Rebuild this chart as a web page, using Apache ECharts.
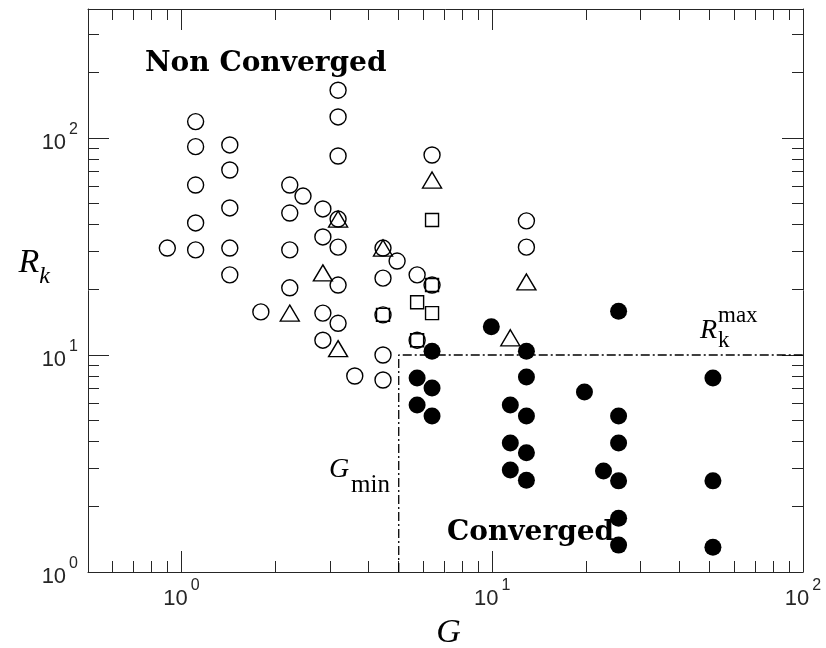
<!DOCTYPE html>
<html><head><meta charset="utf-8">
<script src="https://cdn.jsdelivr.net/npm/echarts@6/dist/echarts.min.js"></script>
<style>html,body{margin:0;padding:0;background:#fff}#c{width:826px;height:648px}</style>
</head><body><div id="c"></div>
<script>
// ---- data (G, R_k) ----
const openCircleG = [0.9, 1.11,1.11,1.11,1.11,1.11, 1.43,1.43,1.43,1.43,1.43, 1.8, 2.23,2.23,2.23,2.23, 2.46, 2.85,2.85,2.85,2.85, 3.19,3.19,3.19,3.19,3.19,3.19,3.19, 3.61, 4.45,4.45,4.45,4.45,4.45, 4.94, 5.73,5.73, 6.4,6.4, 12.88,12.88];
const openCircleR = [31.1, 119,91.2,60.7,40.6,30.5, 92.9,71.2,47.6,31.1,23.4, 15.8, 60.7,45.1,30.5,20.4, 54.0, 47.1,35.0,15.6,11.7, 166,125,82.6,42.3,31.4,21.0,14.0, 8.0, 31.1,22.6,15.3,10.0,7.67, 27.1, 23.4,11.7, 83.5,21.0, 41.5,31.4];
const triangleG = [2.23, 2.85, 3.19, 3.19, 4.45, 6.4, 11.43, 12.88];
const triangleR = [15.6, 23.9, 42.3, 10.7, 31.1, 64.0, 12.0, 21.7];
const squareG = [4.45, 5.73, 5.73, 6.4, 6.4, 6.4];
const squareR = [15.3, 17.5, 11.7, 41.9, 21.0, 15.6];
const filledG = [6.4, 5.73, 6.4, 5.73, 6.4, 9.93, 12.88, 12.88, 11.43, 12.88, 11.43, 12.88, 11.43, 12.88, 19.8, 22.8, 25.5,25.5,25.5,25.5,25.5,25.5, 51.3,51.3,51.3];
const filledR = [10.4, 7.83, 7.05, 5.88, 5.24, 13.5, 10.4, 7.92, 5.88, 5.24, 3.93, 3.54, 2.95, 2.65, 6.75, 2.92, 15.9,5.24,3.93,2.63,1.77,1.33, 7.83,2.63,1.30];
// boundary: G_min and R_k^max
const Gmin = 5, RkMax = 10;
// axis ranges and ticks
const xMin = 0.5, xMax = 100, yMin = 1, yMax = 393;
const majorExp = [0, 1, 2];
const minorMult = [2, 3, 4, 5, 6, 7, 8, 9];

const L = Math.log10;
const pts = (gs, rs) => gs.map((g, i) => [L(g), L(rs[i])]);
function minorLog(lo, hi) {
  const out = [];
  for (let e = -1; e <= 2; e++) minorMult.forEach(m => { const v = m * Math.pow(10, e); if (v > lo * 1.0001 && v < hi * 0.9999) out.push(L(v)); });
  return out;
}
const ax = '#262626';
const tickFont = 'Liberation Sans, Arial, sans-serif';
const labelRich = {
  b: { fontSize: 22, fontFamily: tickFont, color: ax, lineHeight: 32, verticalAlign: 'bottom' },
  s: { fontSize: 16, fontFamily: tickFont, color: ax, verticalAlign: 'top', padding: [0, 0, 0, 3] }
};
function mkX(pos, ticks, len, showLine, showLabel) {
  return {
    type: 'value', position: pos, min: L(xMin), max: L(xMax),
    axisLine: { show: showLine, onZero: false, lineStyle: { color: ax, width: 1 } },
    axisTick: { show: true, inside: true, length: len, customValues: ticks, lineStyle: { color: ax, width: 1 } },
    axisLabel: showLabel ? { show: true, customValues: majorExp, margin: 6, formatter: v => '{b|10}{s|' + Math.round(v) + '}', rich: labelRich } : { show: false },
    splitLine: { show: false }
  };
}
function mkY(pos, ticks, len, showLine, showLabel) {
  return {
    type: 'value', position: pos, min: L(yMin), max: L(yMax),
    axisLine: { show: showLine, onZero: false, lineStyle: { color: ax, width: 1 } },
    axisTick: { show: true, inside: true, length: len, customValues: ticks, lineStyle: { color: ax, width: 1 } },
    axisLabel: showLabel ? { show: true, customValues: majorExp, margin: 10, formatter: v => '{b|10}{s|' + Math.round(v) + '}', rich: labelRich } : { show: false },
    splitLine: { show: false }
  };
}
const xMinor = minorLog(xMin, xMax), yMinor = minorLog(yMin, yMax);
const xs = [mkX('bottom', majorExp, 21, true, true), mkX('bottom', xMinor, 11, false, false), mkX('top', majorExp, 21, true, false), mkX('top', xMinor, 11, false, false)];
const ys = [mkY('left', majorExp, 21, true, true), mkY('left', yMinor, 11, false, false), mkY('right', majorExp, 21, true, false), mkY('right', yMinor, 11, false, false)];
xs[0].name = 'G';
xs[0].nameLocation = 'middle';
xs[0].nameGap = 44;
xs[0].nameMoveOverlap = false;
xs[0].nameTextStyle = { fontFamily: 'Liberation Serif, serif', fontStyle: 'italic', fontSize: 34, color: '#000', verticalAlign: 'top', padding: [0, 0, 0, 6] };
ys[0].name = '{r|R}{k|k}';
ys[0].nameLocation = 'middle';
ys[0].nameRotate = 0;
ys[0].nameGap = 38;
ys[0].nameMoveOverlap = false;
ys[0].nameTextStyle = { padding: [0, 0, 56, 0], rich: {
  r: { fontFamily: 'Liberation Serif, serif', fontStyle: 'italic', fontSize: 34, color: '#000', lineHeight: 36, verticalAlign: 'bottom' },
  k: { fontFamily: 'Liberation Serif, serif', fontStyle: 'italic', fontSize: 24, color: '#000', verticalAlign: 'bottom', lineHeight: 24, padding: [0, 0, -8, 0] }
} };

const chart = echarts.init(document.getElementById('c'), null, { renderer: 'canvas' });
const openStyle = { color: 'rgba(0,0,0,0)', borderColor: '#000', borderWidth: 1.4, opacity: 1 };
const option = {
  animation: false,
  backgroundColor: '#fff',
  grid: { left: 88, right: 23, top: 9, bottom: 76, outerBoundsMode: 'none' },
  xAxis: xs, yAxis: ys,
  series: [
    { type: 'line', data: [[L(Gmin), L(yMin)], [L(Gmin), L(RkMax)], [L(xMax), L(RkMax)]], symbol: 'none', silent: true,
      lineStyle: { color: '#000', width: 1.3, opacity: 1, type: [9, 3, 2, 3] }, z: 1 },
    { type: 'scatter', data: pts(openCircleG, openCircleR), symbol: 'circle', symbolSize: 16, itemStyle: openStyle },
    { type: 'scatter', data: pts(triangleG, triangleR), symbol: 'triangle', symbolSize: [19, 16], itemStyle: openStyle },
    { type: 'scatter', data: pts(squareG, squareR), symbol: 'rect', symbolSize: 13, itemStyle: openStyle },
    { type: 'scatter', data: pts(filledG, filledR), symbol: 'circle', symbolSize: 17, itemStyle: { color: '#000', opacity: 1 } }
  ],
  graphic: [
    { type: 'text', x: 145, y: 64, style: { text: 'Non Converged', font: 'bold 28px "DejaVu Serif", serif', fill: '#000', verticalAlign: 'middle' } },
    { type: 'text', x: 447, y: 533, style: { text: 'Converged', font: 'bold 28px "DejaVu Serif", serif', fill: '#000', verticalAlign: 'middle' } },
    { type: 'text', x: 329, y: 470, style: { text: 'G', font: 'italic 28px "Liberation Serif", serif', fill: '#000', verticalAlign: 'middle' } },
    { type: 'text', x: 351, y: 485, style: { text: 'min', font: '25px "Liberation Serif", serif', fill: '#000', verticalAlign: 'middle' } },
    { type: 'text', x: 700, y: 331, style: { text: 'R', font: 'italic 28px "Liberation Serif", serif', fill: '#000', verticalAlign: 'middle' } },
    { type: 'text', x: 718, y: 316, style: { text: 'max', font: '23px "Liberation Serif", serif', fill: '#000', verticalAlign: 'middle' } },
    { type: 'text', x: 718, y: 341, style: { text: 'k', font: '23px "Liberation Serif", serif', fill: '#000', verticalAlign: 'middle' } }
  ]
};
chart.setOption(option);
</script></body></html>
